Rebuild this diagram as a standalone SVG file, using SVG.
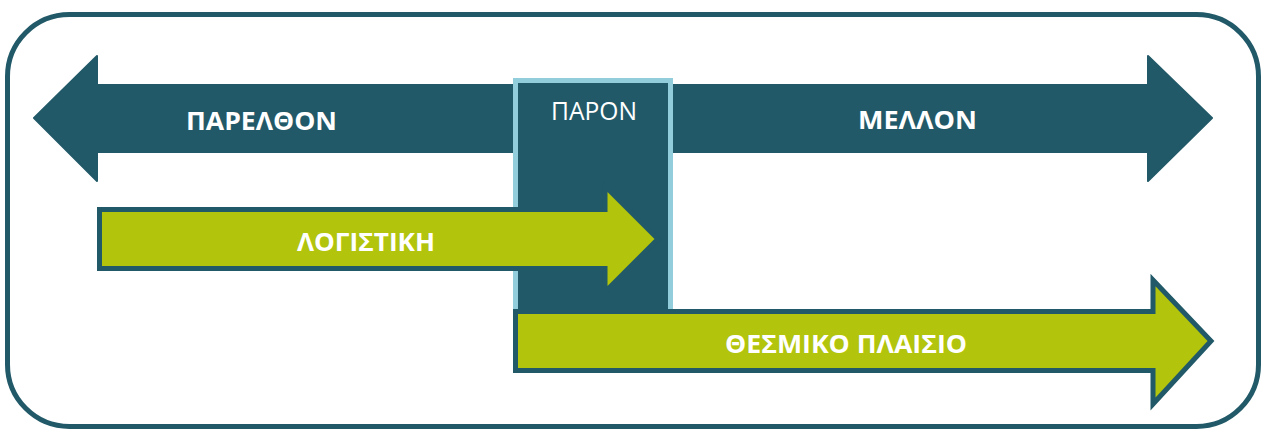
<svg xmlns="http://www.w3.org/2000/svg" width="1265" height="430" viewBox="0 0 1265 430">
  <style>
    .dark { fill: #215968; }
    .green { fill: #b2c40c; stroke: #215968; stroke-width: 5; stroke-linejoin: miter; }
    .lbl { font-family: "Open Sans", "Noto Sans", "DejaVu Sans", sans-serif; font-size: 25px; font-weight: bold; fill: #ffffff; text-anchor: middle; }
    .lbl2 { font-family: "Open Sans", "Noto Sans", "DejaVu Sans", sans-serif; font-size: 25px; font-weight: normal; fill: #ffffff; text-anchor: middle; }
  </style>
  <rect width="1265" height="430" fill="#ffffff"/>
  <g id="frame">
    <rect x="7.5" y="14.5" width="1251" height="412" rx="62" ry="62" fill="none" stroke="#215968" stroke-width="5"/>
  </g>
  <g id="timeline">
    <path class="dark" stroke="#215968" stroke-width="2" stroke-linejoin="round" d="M34,118 L97,56 L97,85 L1148,85 L1148,56 L1212,118 L1148,181 L1148,152 L97,152 L97,181 Z"/>
    <text class="lbl" x="261.5" y="130" textLength="151" lengthAdjust="spacingAndGlyphs">ΠΑΡΕΛΘΟΝ</text>
    <text class="lbl" x="917.5" y="129" textLength="119" lengthAdjust="spacingAndGlyphs">ΜΕΛΛΟΝ</text>
  </g>
  <g id="present">
    <rect x="515.5" y="80.5" width="155" height="240" fill="#215968" stroke="#92cddc" stroke-width="5"/>
    <text class="lbl2" x="594" y="120" textLength="86" lengthAdjust="spacingAndGlyphs">ΠΑΡΟΝ</text>
  </g>
  <g id="logistiki">
    <path class="green" d="M99.5,209.5 L605,209.5 L605,186 L658,239 L605,292 L605,268.5 L99.5,268.5 Z"/>
    <text class="lbl" x="366" y="251" textLength="138" lengthAdjust="spacingAndGlyphs">ΛΟΓΙΣΤΙΚΗ</text>
  </g>
  <g id="thesmiko">
    <path class="green" d="M515.5,311.5 L1153,311.5 L1153,280 L1211,341 L1153,404 L1153,370.5 L515.5,370.5 Z"/>
    <text class="lbl" x="846" y="353" textLength="242" lengthAdjust="spacingAndGlyphs">ΘΕΣΜΙΚΟ ΠΛΑΙΣΙΟ</text>
  </g>
</svg>
